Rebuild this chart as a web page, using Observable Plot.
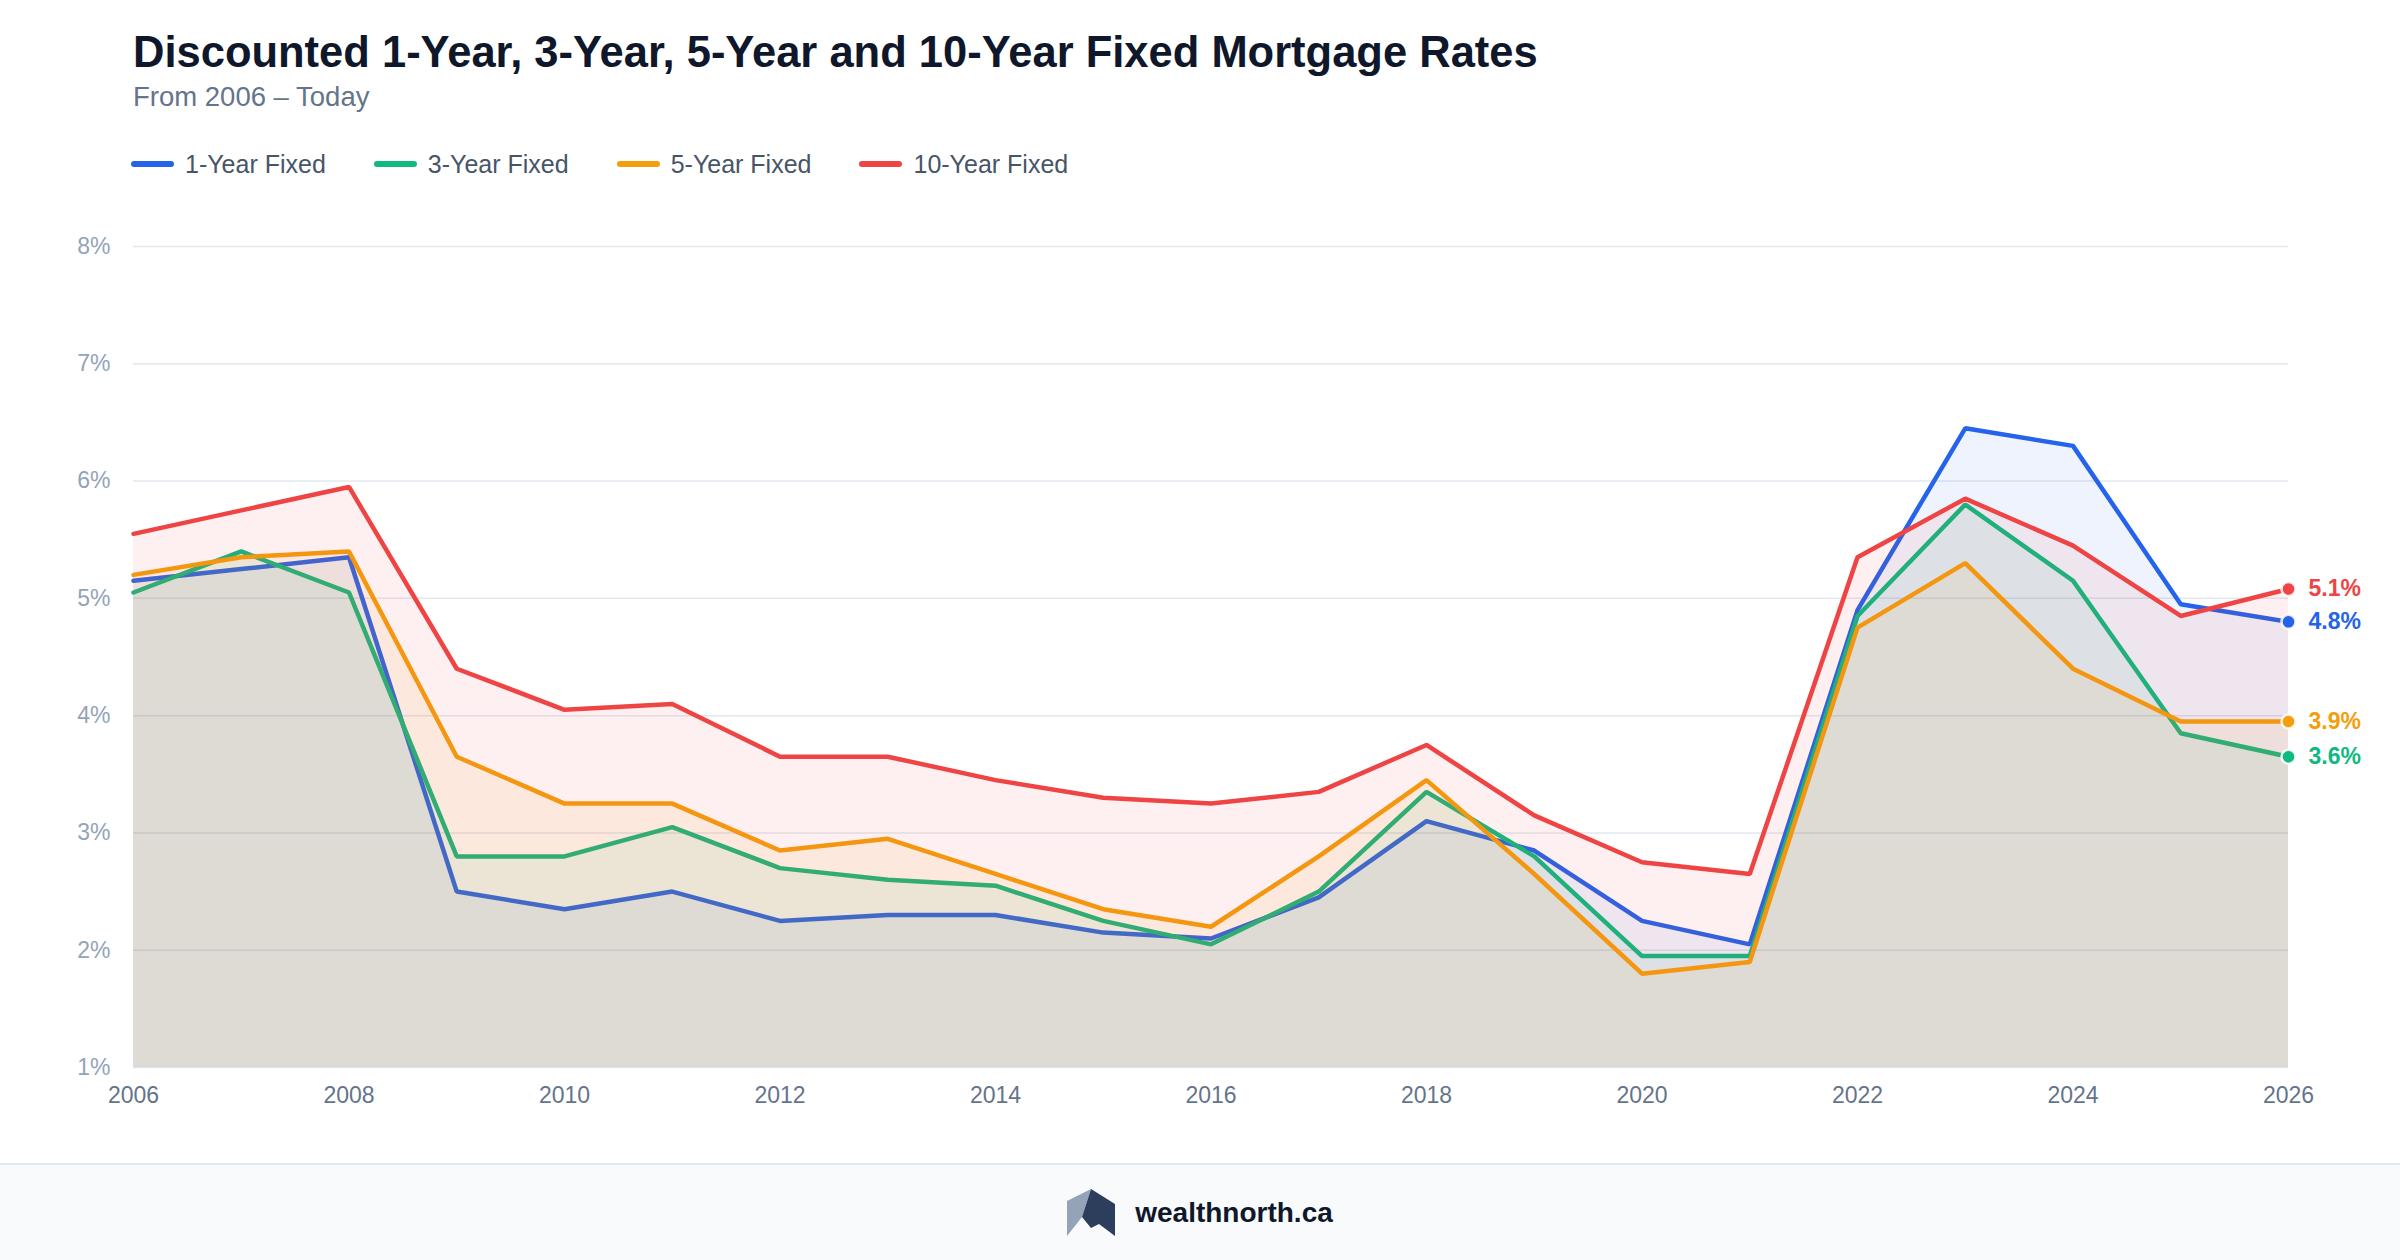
<!DOCTYPE html>
<html>
<head>
<meta charset="utf-8">
<script src="https://cdn.jsdelivr.net/npm/d3@7"></script>
<script src="https://cdn.jsdelivr.net/npm/@observablehq/plot@0.6"></script>
<style>
  html, body { margin: 0; padding: 0; background: #ffffff; }
  body { width: 2400px; height: 1260px; position: relative; overflow: hidden; font-family: "Liberation Sans", Arial, Helvetica, sans-serif; }
  #title { position: absolute; left: 133px; top: 31px; font-size: 43.5px; line-height: 1; font-weight: bold; color: #0f172a; white-space: nowrap; }
  #subtitle { position: absolute; left: 133px; top: 83px; font-size: 27.5px; line-height: 1; color: #64748b; white-space: nowrap; }
  #legend { position: absolute; left: 131px; top: 148px; height: 32px; display: flex; align-items: center; }
  .item { display: flex; align-items: center; margin-right: 48px; font-size: 25px; color: #475569; }
  .sw { width: 43px; height: 6px; border-radius: 3px; margin-right: 11px; }
  #chart { position: absolute; left: 0; top: 200px; }
  #footer { position: absolute; left: 0; top: 1163px; width: 2400px; height: 97px; background: #f8fafc; border-top: 2px solid #e2e8f0; box-sizing: border-box; display: flex; align-items: center; justify-content: center; }
  #footer .brand { font-size: 28px; font-weight: bold; color: #0f172a; margin-left: 20px; }
</style>
</head>
<body>
<div id="title"></div>
<div id="subtitle"></div>
<div id="legend"></div>
<div id="chart"></div>
<div id="footer">
  <svg width="48" height="47" viewBox="0 0 48 47">
    <polygon points="0,12 24,0 15,28 0,47" fill="#94a3b8"/>
    <polygon points="24,0 48,15 48,47 32,35 24,39 15,28" fill="#2c3e5c"/>
  </svg>
  <span class="brand">wealthnorth.ca</span>
</div>
<script>
const titleText = "Discounted 1-Year, 3-Year, 5-Year and 10-Year Fixed Mortgage Rates";
const subtitleText = "From 2006 \u2013 Today";

const years = [2006, 2007, 2008, 2009, 2010, 2011, 2012, 2013, 2014, 2015, 2016, 2017, 2018, 2019, 2020, 2021, 2022, 2023, 2024, 2025, 2026];

const oneYear   = [5.15, 5.25, 5.35, 2.50, 2.35, 2.50, 2.25, 2.30, 2.30, 2.15, 2.10, 2.45, 3.10, 2.85, 2.25, 2.05, 4.90, 6.45, 6.30, 4.95, 4.80];
const threeYear = [5.05, 5.40, 5.05, 2.80, 2.80, 3.05, 2.70, 2.60, 2.55, 2.25, 2.05, 2.50, 3.35, 2.80, 1.95, 1.95, 4.85, 5.80, 5.15, 3.85, 3.65];
const fiveYear  = [5.20, 5.35, 5.40, 3.65, 3.25, 3.25, 2.85, 2.95, 2.65, 2.35, 2.20, 2.80, 3.45, 2.65, 1.80, 1.90, 4.75, 5.30, 4.40, 3.95, 3.95];
const tenYear   = [5.55, 5.75, 5.95, 4.40, 4.05, 4.10, 3.65, 3.65, 3.45, 3.30, 3.25, 3.35, 3.75, 3.15, 2.75, 2.65, 5.35, 5.85, 5.45, 4.85, 5.08];

const seriesNames = ["1-Year Fixed", "3-Year Fixed", "5-Year Fixed", "10-Year Fixed"];
const seriesColors = ["#2563eb", "#10b981", "#f59e0b", "#ef4444"];
const seriesValues = [oneYear, threeYear, fiveYear, tenYear];
const endLabels = ["4.8%", "3.6%", "3.9%", "5.1%"];

const yTicks = [1, 2, 3, 4, 5, 6, 7, 8];
const xTicks = [2006, 2008, 2010, 2012, 2014, 2016, 2018, 2020, 2022, 2024, 2026];

document.getElementById("title").textContent = titleText;
document.getElementById("subtitle").textContent = subtitleText;
const legend = document.getElementById("legend");
seriesNames.forEach((n, i) => {
  const it = document.createElement("div");
  it.className = "item";
  const sw = document.createElement("div");
  sw.className = "sw";
  sw.style.background = seriesColors[i];
  const t = document.createElement("span");
  t.textContent = n;
  it.appendChild(sw); it.appendChild(t);
  legend.appendChild(it);
});

const series = seriesNames.map((name, i) => ({
  name, color: seriesColors[i], label: endLabels[i],
  rows: years.map((year, j) => ({year, value: seriesValues[i][j]}))
}));

const fontFamily = '"Liberation Sans", Arial, Helvetica, sans-serif';
const marks = [
  Plot.gridY(yTicks, {stroke: "#e2e8f0", strokeOpacity: 1, strokeWidth: 1.5}),
  Plot.axisY(yTicks, {tickSize: 0, tickPadding: 23, tickFormat: d => d + "%", fill: "#94a3b8", fontSize: 23, label: null}),
  Plot.axisX(xTicks, {tickSize: 0, tickPadding: 19, tickFormat: d => String(d), fill: "#64748b", fontSize: 23, label: null})
];
series.forEach(s => {
  marks.push(Plot.areaY(s.rows, {x: "year", y1: 1, y2: "value", fill: s.color, fillOpacity: 0.08}));
  marks.push(Plot.line(s.rows, {x: "year", y: "value", stroke: s.color, strokeWidth: 4.5, strokeLinejoin: "miter", strokeLinecap: "round"}));
});
series.forEach(s => {
  const last = [s.rows[s.rows.length - 1]];
  marks.push(Plot.dot(last, {x: "year", y: "value", r: 7, fill: s.color, stroke: "white", strokeWidth: 2.5, strokeOpacity: 0.85}));
  marks.push(Plot.text(last, {x: "year", y: "value", text: () => s.label, dx: 20, textAnchor: "start", fill: s.color, fontWeight: "bold", fontSize: 23}));
});

const chart = Plot.plot({
  width: 2400,
  height: 963,
  marginLeft: 133,
  marginRight: 112,
  marginTop: 46,
  marginBottom: 96,
  style: {fontFamily, background: "transparent", overflow: "visible"},
  x: {domain: [2006, 2026], label: null},
  y: {domain: [1, 8], label: null},
  marks
});
document.getElementById("chart").appendChild(chart);
</script>
</body>
</html>
